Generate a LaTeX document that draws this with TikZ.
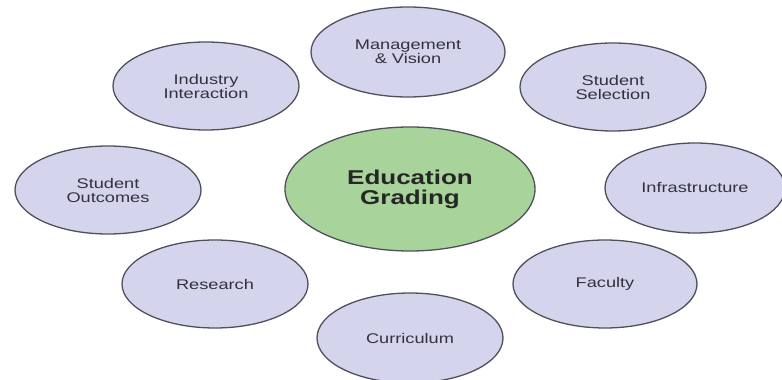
\documentclass[tikz,border=0pt]{standalone}
\usepackage{fontspec}
\setmainfont{Liberation Sans}[FakeStretch=1.3]
\usetikzlibrary{shapes.geometric}
\definecolor{factorlavender}{RGB}{212,212,236}
\definecolor{gradinggreen}{RGB}{168,212,156}
\definecolor{outlinegray}{RGB}{80,80,92}
\definecolor{labelgray}{RGB}{50,50,62}

\begin{document}
\begin{tikzpicture}[x=1pt, y=1pt,
    factor/.style={ellipse, draw=outlinegray, line width=1.3pt, fill=factorlavender,
      minimum width=186pt, minimum height=88pt, inner sep=0pt, align=center,
      text=labelgray, font=\fontsize{14}{14}\selectfont},
    core/.style={ellipse, draw=outlinegray, line width=1.3pt, fill=gradinggreen,
      minimum width=250pt, minimum height=124pt, inner sep=0pt, align=center,
      text=black!85, font=\fontsize{20}{20}\selectfont\bfseries}]
            \useasboundingbox (0,0) rectangle (782,380);

            % Centre ellipse
            \node[core] (grading) at (410,191) {Education\\Grading};

            % Top row
            \node[factor, minimum width=194pt, minimum height=90pt] (vision) at (408,328) {Management\\\& Vision};
            \node[factor] (industry) at (206,294) {Industry\\Interaction};
            \node[factor] (selection) at (613,293) {Student\\Selection};

            % Middle row
            \node[factor] (outcomes) at (108,190) {Student\\Outcomes};
            \node[factor, minimum width=180pt, minimum height=90pt] (infra) at (695,192) {Infrastructure};

            % Bottom row
            \node[factor] (research) at (215,96) {Research};
            \node[factor, minimum width=184pt] (faculty) at (605,96) {Faculty};
            \node[factor, minimum height=90pt] (curriculum) at (410,42) {Curriculum};
        \end{tikzpicture}
\end{document}
